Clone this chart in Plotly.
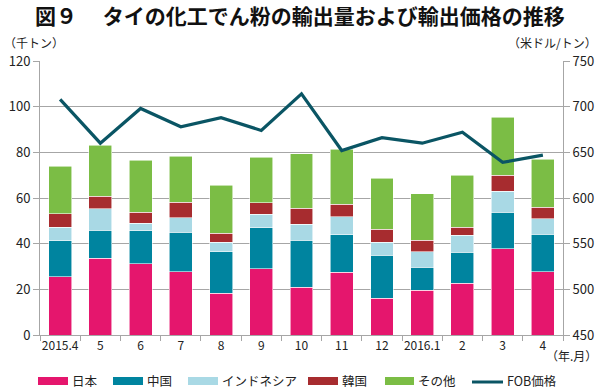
import plotly.graph_objects as go

months = ["2015.4", "5", "6", "7", "8", "9", "10", "11", "12", "2016.1", "2", "3", "4"]
japan = [25.6, 33.6, 31.1, 27.8, 18.2, 29.0, 21.0, 27.5, 16.0, 19.5, 22.7, 37.7, 27.8]
china = [15.6, 12.3, 14.6, 17.3, 18.3, 17.9, 20.5, 16.3, 18.9, 10.2, 13.5, 16.1, 16.4]
indonesia = [6.1, 9.3, 3.2, 6.3, 4.1, 5.9, 7.0, 8.0, 5.7, 6.8, 7.5, 9.1, 6.8]
korea = [5.7, 5.5, 4.8, 6.7, 3.9, 5.1, 7.1, 5.5, 5.7, 5.0, 3.5, 7.0, 4.9]
other = [20.9, 22.3, 22.9, 20.1, 21.1, 20.0, 23.7, 24.1, 22.4, 20.4, 22.7, 25.4, 21.0]
fob = [708, 660, 698, 678, 688, 674, 714, 652, 666, 660, 672, 639, 647]

series_names = ["日本", "中国", "インドネシア", "韓国", "その他"]
series_vals = [japan, china, indonesia, korea, other]
colors = ["#E5166D", "#00849F", "#A9D9E5", "#A72C2F", "#7BBD45"]
line_color = "#0A5564"
FONT = "Noto Sans CJK JP"

fig = go.Figure()
for name, vals, col in zip(series_names, series_vals, colors):
    fig.add_trace(go.Bar(
        x=months, y=vals, name=name, marker_color=col,
        marker_line=dict(color="rgba(255,255,255,0.7)", width=0.8),
        showlegend=False,
    ))
fig.add_trace(go.Scatter(
    x=months, y=fob, name="FOB価格", mode="lines", yaxis="y2",
    line=dict(color=line_color, width=3.2), showlegend=False,
))

grid = "#A6A6A6"
fig.update_layout(
    width=600, height=390,
    margin=dict(l=40, r=37, t=61, b=55),
    paper_bgcolor="white", plot_bgcolor="white",
    barmode="stack", bargap=0.43,
    font=dict(family=FONT, size=12, color="#222222"),
    xaxis=dict(type="category", showline=True, linecolor=grid, linewidth=1,
               ticks="outside", tickson="boundaries", ticklen=5, tickcolor=grid,
               tickfont=dict(size=12), tickangle=0, showgrid=False,
               automargin=False),
    yaxis=dict(range=[0, 120], dtick=20, showgrid=True, gridcolor=grid, gridwidth=1,
               showline=True, linecolor=grid, ticks="outside", ticklen=6, tickcolor=grid,
               tickfont=dict(size=13), zeroline=False, automargin=False),
    yaxis2=dict(range=[450, 750], dtick=50, overlaying="y", side="right",
                showgrid=False, showline=True, linecolor=grid, ticks="outside",
                ticklen=6, tickcolor=grid, tickfont=dict(size=13), zeroline=False,
                automargin=False),
)

W, H = 523.0, 274.0
def px(x):
    return (x - 40) / W
def py(y):
    return (335 - y) / H

ann = []
ann.append(dict(text="<b>図９　 タイの化工でん粉の輸出量および輸出価格の推移</b>",
                x=px(300), y=py(15), xref="paper", yref="paper", showarrow=False,
                xanchor="center", yanchor="middle", font=dict(family=FONT, size=21, color="#111111")))
ann.append(dict(text="（千トン）", x=px(2), y=py(43), xref="paper", yref="paper",
                showarrow=False, xanchor="left", yanchor="middle", font=dict(size=12)))
ann.append(dict(text="（米ドル/トン）", x=px(599), y=py(43), xref="paper", yref="paper",
                showarrow=False, xanchor="right", yanchor="middle", font=dict(size=12)))
ann.append(dict(text="（年.月）", x=px(599), y=py(355), xref="paper", yref="paper",
                showarrow=False, xanchor="right", yanchor="middle", font=dict(size=12)))

shapes = []
legend_items = [
    ("日本", colors[0], 38, 68, "rect"),
    ("中国", colors[1], 113, 143, "rect"),
    ("インドネシア", colors[2], 188, 218, "rect"),
    ("韓国", colors[3], 308, 338, "rect"),
    ("その他", colors[4], 385, 414, "rect"),
    ("FOB価格", line_color, 472, 503, "line"),
]
ly = 380.5
for label, col, x0, x1, kind in legend_items:
    if kind == "rect":
        shapes.append(dict(type="rect", xref="paper", yref="paper",
                           x0=px(x0), x1=px(x1), y0=py(ly + 4.5), y1=py(ly - 3.5),
                           fillcolor=col, line=dict(width=0)))
    else:
        shapes.append(dict(type="line", xref="paper", yref="paper",
                           x0=px(x0), x1=px(x1), y0=py(ly + 1.5), y1=py(ly + 1.5),
                           line=dict(color=col, width=3)))
    ann.append(dict(text=label, x=px(x1 + 2), y=py(ly), xref="paper", yref="paper",
                    showarrow=False, xanchor="left", yanchor="middle",
                    font=dict(size=12.5, color="#222222")))

fig.update_layout(annotations=ann, shapes=shapes)
fig.write_html("out.html", config={"displayModeBar": False},
               post_script="document.body.style.margin='0';document.body.style.overflow='hidden';")
